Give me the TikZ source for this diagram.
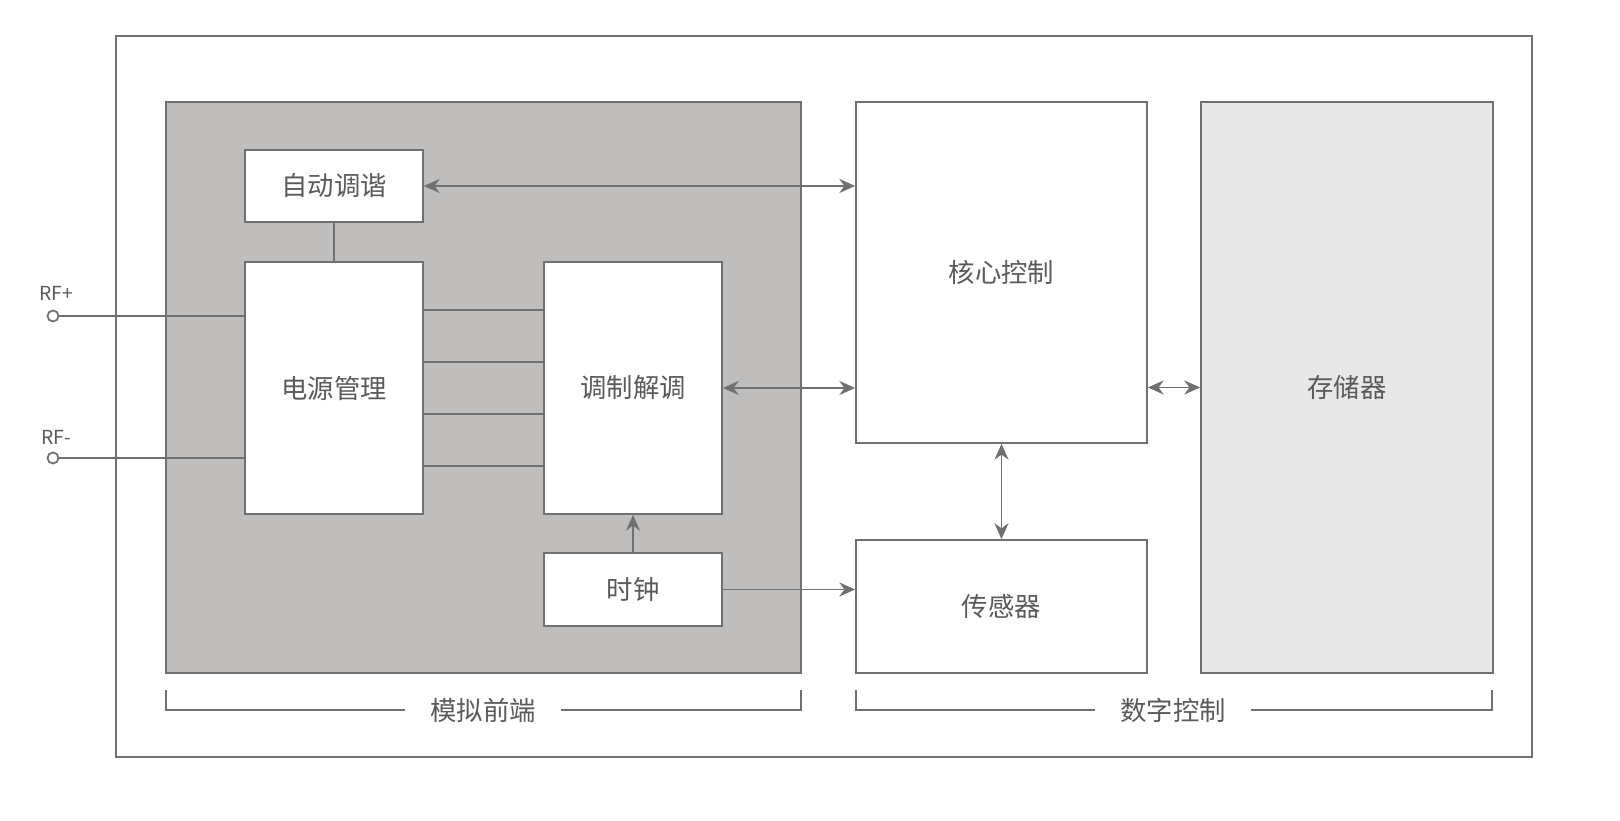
\documentclass[tikz,border=0pt]{standalone}
\usepackage{fontspec}
\setmainfont{Noto Sans CJK SC}
\usetikzlibrary{arrows.meta}
\definecolor{linegray}{HTML}{707070}
\definecolor{textgray}{HTML}{5A5A5A}
\definecolor{blockgray}{HTML}{BFBEBD}
\definecolor{memgray}{HTML}{E8E8E8}
\begin{document}
\begin{tikzpicture}[box/.style={draw=linegray,fill=white,line width=0.5pt,text=textgray,font=\fontsize{7.5}{9}\selectfont,inner sep=0pt},
  link/.style={linegray,line width=0.5pt},
  dbl/.style={link,{Stealth[length=4.5pt,width=4pt]}-{Stealth[length=4.5pt,width=4pt]}},
  one/.style={link,-{Stealth[length=4.5pt,width=4pt]}},
  lbl/.style={text=textgray,font=\fontsize{7.5}{9}\selectfont,fill=white,inner xsep=0.25cm,inner ysep=2pt}]
  \useasboundingbox (0,0) rectangle (16.2,8.21);
  \draw[link,fill=white] (1.16,7.85) rectangle (15.32,0.64);
  \draw[link,fill=blockgray] (1.66,7.19) rectangle (8.01,1.48);

  \node[box,minimum width=1.78cm,minimum height=0.72cm] (at) at (3.34,6.35) {自动调谐};
  \node[box,minimum width=1.78cm,minimum height=2.52cm] (ps) at (3.34,4.33) {电源管理};
  \node[box,minimum width=1.78cm,minimum height=2.52cm] (md) at (6.33,4.33) {调制解调};
  \node[box,minimum width=1.78cm,minimum height=0.73cm] (clk) at (6.33,2.315) {时钟};
  \node[box,minimum width=2.91cm,minimum height=3.41cm] (cc) at (10.015,5.485) {核心控制};
  \node[box,minimum width=2.91cm,minimum height=1.33cm] (sn) at (10.015,2.145) {传感器};
  \node[box,fill=memgray,minimum width=2.92cm,minimum height=5.71cm] (mem) at (13.47,4.335) {存储器};

  % RF inputs
  \node[circle,draw=linegray,fill=white,line width=0.5pt,inner sep=0pt,minimum size=0.11cm] (rfp) at (0.53,5.05) {};
  \node[circle,draw=linegray,fill=white,line width=0.5pt,inner sep=0pt,minimum size=0.11cm] (rfm) at (0.53,3.63) {};
  \node[text=textgray,font=\fontsize{5.5}{6}\selectfont] (rfpl) at (0.56,5.28) {RF+};
  \node[text=textgray,font=\fontsize{5.5}{6}\selectfont] (rfml) at (0.56,3.84) {RF-};
  \draw[link] (rfp) -- (ps.west |- rfp);
  \draw[link] (rfm) -- (ps.west |- rfm);

  % internal links
  \draw[link] (at.south) -- (ps.north);
  \foreach \y in {5.11,4.59,4.07,3.55}
    \draw[link] (ps.east |- 0,\y) -- (md.west |- 0,\y);
  \draw[one] (clk.north) -- (md.south);
  \draw[one] (clk.east) -- (sn.west |- clk.east);
  \draw[dbl] (at.east) -- (cc.west |- at.east);
  \draw[dbl] (md.east) -- (cc.west |- md.east);
  \draw[dbl] (cc.east |- mem.west) -- (mem.west);
  \draw[dbl] (cc.south) -- (sn.north);

  % group brackets
  \draw[link] (1.66,1.31) -- (1.66,1.11) -- (8.01,1.11) -- (8.01,1.31);
  \node[lbl] (afe) at (4.83,1.11) {模拟前端};
  \draw[link] (8.56,1.31) -- (8.56,1.11) -- (14.92,1.11) -- (14.92,1.31);
  \node[lbl] (dig) at (11.73,1.11) {数字控制};
\end{tikzpicture}
\end{document}
